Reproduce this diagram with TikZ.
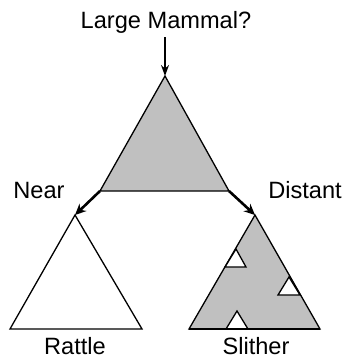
\documentclass[tikz,border=0pt]{standalone}
\usepackage{fontspec}
\setmainfont{Liberation Sans}
\usetikzlibrary{arrows.meta}
\definecolor{shadegray}{RGB}{192,192,192}

\begin{document}
\begin{tikzpicture}[
  x=1pt, y=-1pt,
  tri/.style={draw, line width=1.3pt, line join=miter},
  hole/.style={tri, fill=white},
  lbl/.style={font=\fontsize{23.6}{26}\selectfont, inner sep=0pt, anchor=base},
  arr/.style={-{Stealth[length=11pt, width=8pt]}, line width=1.3pt},
  barr/.style={-{Stealth[length=11pt, width=10pt]}, line width=2.6pt}
]
  \useasboundingbox (0,0) rectangle (343,360);
  % top triangle
  \coordinate (ta) at (165,76);
  \coordinate (tl) at (100,191);
  \coordinate (tr) at (229,191);
  \filldraw[tri, fill=shadegray] (ta) -- (tl) -- (tr) -- cycle;
  % left child
  \coordinate (la) at (75,215);
  \coordinate (ll) at (10,329);
  \coordinate (lr) at (142,329);
  \draw[tri] (la) -- (ll) -- (lr) -- cycle;
  % right child with holes
  \coordinate (ra) at (255,215);
  \coordinate (rl) at (189,329);
  \coordinate (rr) at (320,329);
  \filldraw[tri, fill=shadegray] (ra) -- (rl) -- (rr) -- cycle;
  \filldraw[hole] (236,249) -- (225,267) -- (246,267) -- cycle;
  \filldraw[hole] (289,277) -- (278,295) -- (300,295) -- cycle;
  \filldraw[hole] (237,311) -- (226,329) -- (248,329) -- cycle;
  \draw[tri] (rl) -- (rr);
  % labels
  \node[lbl] (q)  at (166,28)  {Large Mammal?};
  \node[lbl] (nr) at (39,198)  {Near};
  \node[lbl] (ds) at (305,198) {Distant};
  \node[lbl] (rt) at (75,354)  {Rattle};
  \node[lbl] (sl) at (256,354) {Slither};
  % arrows
  \coordinate (qs) at (165,37);
  \draw[arr] (qs) -- (ta);
  \draw[barr] (tl) -- (la);
  \draw[barr] (tr) -- (ra);
\end{tikzpicture}
\end{document}
